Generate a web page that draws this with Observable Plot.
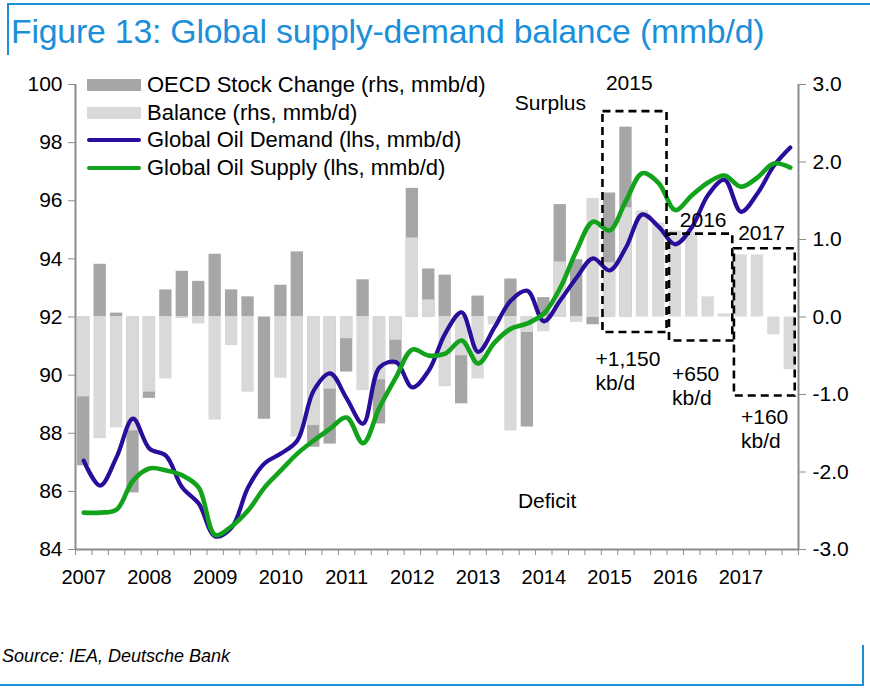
<!DOCTYPE html>
<html><head><meta charset="utf-8">
<script src="https://cdn.jsdelivr.net/npm/d3@7"></script>
<script src="https://cdn.jsdelivr.net/npm/@observablehq/plot@0.6"></script>
<style>
body{margin:0;background:#fff;font-family:"Liberation Sans",Arial,sans-serif;}
#wrap{position:relative;width:870px;height:688px;overflow:hidden;background:#fff}
#chart{position:absolute;left:0;top:0}
#title{position:absolute;left:11px;top:12px;font-size:33.8px;color:#1B8FD9;white-space:nowrap;letter-spacing:-0.2px}
#source{position:absolute;left:2px;top:646px;font-size:18px;font-style:italic;color:#000;white-space:nowrap}
.bl{position:absolute;background:#1B8FD9}
.leg{position:absolute;left:87px;font-size:22px;color:#000;white-space:nowrap}
.leg .sw{position:absolute;left:0;width:54px}
.leg span{position:absolute;left:60px;top:0;line-height:24px}
</style></head><body>
<div id="wrap">
  <div id="chart"></div>
  <div class="bl" style="left:7px;top:3px;width:863px;height:2px"></div>
  <div class="bl" style="left:7px;top:3px;width:2px;height:52px"></div>
  <div class="bl" style="left:0px;top:684px;width:864px;height:2px"></div>
  <div class="bl" style="left:862px;top:645px;width:2px;height:41px"></div>
  <div id="title">Figure 13: Global supply-demand balance (mmb/d)</div>
  <div id="legend"></div>
  <div id="source">Source: IEA, Deutsche Bank</div>
</div>
<script>
// ---- Data (quarterly, 2007Q1 .. 2017Q4) ----
const years = [2007, 2008, 2009, 2010, 2011, 2012, 2013, 2014, 2015, 2016, 2017];
const quarters = years.flatMap(y => [1, 2, 3, 4].map(q => `${y}Q${q}`));

// OECD stock change (rhs, mmb/d)
const oecdStock = [
  -1.92, 0.68, 0.05, -2.27,
  -1.05, 0.35, 0.59, 0.46,
  0.81, 0.35, 0.26, -1.32,
  0.41, 0.84, -1.68, -1.64,
  -0.71, 0.48, -1.38, -0.62,
  1.66, 0.62, 0.54, -1.12,
  0.27, -0.05, 0.49, -1.42,
  0.25, 1.45, 0.74, -0.10,
  1.60, 2.45, null, null,
  null, null, null, null,
  null, null, null, null
];
// Balance (rhs, mmb/d)
const balance = [
  -1.03, -1.57, -1.43, -1.47,
  -0.97, -0.80, -0.02, -0.09,
  -1.33, -0.37, -0.97, 0.00,
  -0.79, -1.55, -1.40, -0.93,
  -0.28, -0.95, -0.81, -0.30,
  1.02, 0.22, -0.90, -0.50,
  -0.80, -0.10, -1.47, -0.20,
  -0.19, 0.71, -0.07, 1.53,
  0.70, 1.41, 1.37, 1.21,
  1.11, 1.09, 0.26, 0.04,
  0.80, 0.80, -0.23, -0.68
];
// Global oil demand (lhs, mmb/d)
const demand = [
  87.06, 86.20, 87.18, 88.50,
  87.47, 87.23, 86.13, 85.58,
  84.45, 84.75, 86.13, 86.96,
  87.30, 87.75, 89.47, 90.06,
  89.20, 88.33, 90.26, 90.45,
  89.58, 90.16, 91.43, 92.16,
  90.80, 91.64, 92.57, 92.90,
  91.85, 92.57, 93.36, 94.02,
  93.60, 94.39, 95.53, 95.10,
  94.50, 95.08, 96.20, 96.72,
  95.62, 96.25, 97.20, 97.83
];
// Global oil supply (lhs, mmb/d)
const supply = [
  85.27, 85.27, 85.37, 86.37,
  86.79, 86.72, 86.55, 86.13,
  84.50, 84.80, 85.34, 86.13,
  86.72, 87.30, 87.75, 88.16,
  88.54, 87.66, 88.89, 89.92,
  90.88, 90.67, 90.74, 91.19,
  90.40, 91.12, 91.60, 91.78,
  92.12, 93.00, 94.29, 95.28,
  94.98, 96.00, 96.95, 96.60,
  95.68, 96.18, 96.63, 96.87,
  96.48, 96.80, 97.28, 97.14
];

const leftTicks = [84, 86, 88, 90, 92, 94, 96, 98, 100];
const rightTicks = [-3, -2, -1, 0, 1, 2, 3];

// annotation boxes (quarter index, rhs values)
const boxes = [
  {x1: 32.1, x2: 36.0, r1: -0.20, r2: 2.65},
  {x1: 36.15, x2: 40.0, r1: -0.31, r2: 1.07},
  {x1: 40.1, x2: 43.8, r1: -1.02, r2: 0.88}
];
const centerNotes = [
  {text: "Surplus", x: 28.9, y: 99.35},
  {text: "Deficit", x: 28.7, y: 85.65},
  {text: "2015", x: 33.7, y: 100.05},
  {text: "2016", x: 38.2, y: 95.32},
  {text: "2017", x: 41.75, y: 94.87}
];
const startNotes = [
  {text: "+1,150\nkb/d", x: 31.65, y: 90.92},
  {text: "+650\nkb/d", x: 36.3, y: 90.40},
  {text: "+160\nkb/d", x: 40.5, y: 88.92}
];

// ---- helpers ----
const ZERO = 92, K = 8 / 3; // rhs -> lhs mapping (0 -> 92, 3 -> 100)
const toL = r => ZERO + r * K;
const rows = quarters.map((q, i) => ({q, i, oecd: oecdStock[i], bal: balance[i], dem: demand[i], sup: supply[i]}));

const C_DARK = "#A6A6A6", C_LIGHT = "#D9D9D9", C_DEM = "#2B0D9C", C_SUP = "#12A21B", AX = "#8C8C8C";

const chart = Plot.plot({
  width: 870, height: 688,
  marginLeft: 75, marginRight: 72, marginTop: 84, marginBottom: 139,
  style: {fontFamily: '"Liberation Sans", Arial, sans-serif', background: "transparent", overflow: "visible"},
  x: {type: "linear", domain: [0, 44], axis: null},
  y: {domain: [84, 100], axis: null},
  marks: [
    Plot.rect(rows.filter(d => d.oecd != null), {x1: d => d.i + 0.125, x2: d => d.i + 0.875, y1: ZERO, y2: d => toL(d.oecd), fill: C_DARK}),
    Plot.rect(rows.filter(d => d.bal != null), {x1: d => d.i + 0.125, x2: d => d.i + 0.875, y1: ZERO, y2: d => toL(d.bal), fill: C_LIGHT}),
    Plot.line(rows, {x: d => d.i + 0.5, y: "dem", curve: "catmull-rom", stroke: C_DEM, strokeWidth: 4.2}),
    Plot.line(rows, {x: d => d.i + 0.5, y: "sup", curve: "catmull-rom", stroke: C_SUP, strokeWidth: 4.6}),
    Plot.rect(boxes, {x1: "x1", x2: "x2", y1: d => toL(d.r1), y2: d => toL(d.r2), fill: "none", stroke: "#000", strokeWidth: 2.6, strokeDasharray: "8,5"}),
    Plot.text(centerNotes, {x: "x", y: "y", text: "text", textAnchor: "middle", fontSize: 21, fill: "#000"}),
    Plot.text(startNotes, {x: "x", y: "y", text: "text", textAnchor: "start", lineAnchor: "top", fontSize: 21, fill: "#000", lineHeight: 1.15}),
    // axes
    Plot.ruleX([0], {y1: 84, y2: 100, stroke: AX, strokeWidth: 2}),
    Plot.ruleX([44], {y1: 84, y2: 100, stroke: AX, strokeWidth: 2}),
    Plot.ruleY([84], {x1: 0, x2: 44, stroke: AX, strokeWidth: 2}),
    Plot.axisY(leftTicks, {anchor: "left", tickSize: 7, color: AX, tickFormat: () => "", label: null}),
    Plot.axisY(leftTicks, {anchor: "left", tickSize: 0, tickPadding: 13, fontSize: 21, color: "#000", label: null}),
    Plot.axisY(rightTicks.map(toL), {anchor: "right", tickSize: 7, color: AX, tickFormat: () => "", label: null}),
    Plot.axisY(rightTicks.map(toL), {anchor: "right", tickSize: 0, tickPadding: 14, fontSize: 21, color: "#000", label: null, tickFormat: v => ((v - ZERO) / K).toFixed(1)}),
    Plot.axisX(d3.range(0, 45), {anchor: "bottom", tickSize: 6, color: AX, tickFormat: () => "", label: null}),
    Plot.axisX(years.map((y, k) => k * 4 + 0.5), {anchor: "bottom", tickSize: 0, tickPadding: 20, fontSize: 20, color: "#000", label: null, tickFormat: v => String(years[Math.round((v - 0.5) / 4)])})
  ]
});
document.getElementById("chart").appendChild(chart);

// legend (HTML overlay)
const legendItems = [
  {label: "OECD Stock Change (rhs, mmb/d)", kind: "bar", color: C_DARK},
  {label: "Balance (rhs, mmb/d)", kind: "bar", color: C_LIGHT},
  {label: "Global Oil Demand (lhs, mmb/d)", kind: "line", color: C_DEM},
  {label: "Global Oil Supply (lhs, mmb/d)", kind: "line", color: C_SUP}
];
const leg = document.getElementById("legend");
legendItems.forEach((it, k) => {
  const cy = 85 + k * 27.7;
  const row = document.createElement("div");
  row.className = "leg";
  row.style.top = (cy - 12) + "px";
  row.style.height = "24px";
  const sw = document.createElement("div");
  sw.className = "sw";
  if (it.kind === "bar") { sw.style.top = "6px"; sw.style.height = "12px"; }
  else { sw.style.top = "10px"; sw.style.height = "4px"; sw.style.borderRadius = "2px"; }
  sw.style.background = it.color;
  const sp = document.createElement("span");
  sp.textContent = it.label;
  row.appendChild(sw); row.appendChild(sp);
  leg.appendChild(row);
});
</script>
</body></html>
